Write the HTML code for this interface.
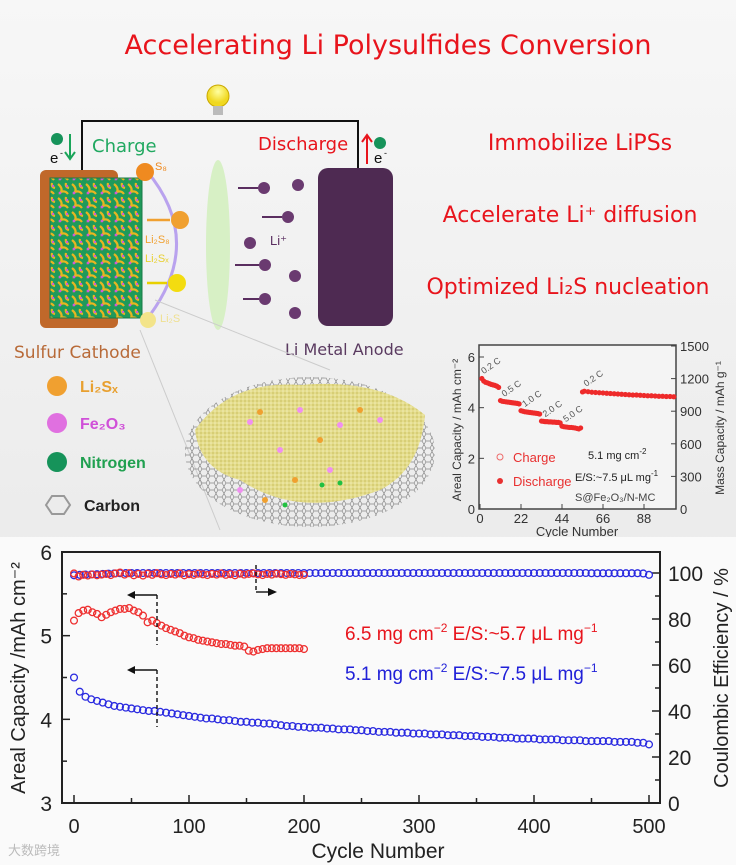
<!DOCTYPE html>
<html><head><meta charset="utf-8"><style>
html,body{margin:0;padding:0;background:#f3f3f3;}
#root{position:relative;width:736px;height:865px;overflow:hidden;background:linear-gradient(#f7f7f7,#ececec 60%,#f6f6f6);font-family:"Liberation Sans",sans-serif;}
svg text{font-family:"Liberation Sans","Noto Sans CJK SC",sans-serif;}
.cm{font-family:"DejaVu Sans","Liberation Sans",sans-serif;}
</style></head><body>
<div id="root">
<svg width="736" height="865" viewBox="0 0 736 865">
<defs>
<radialGradient id="gy" cx="0.4" cy="0.4"><stop offset="0" stop-color="#f7f1b0"/><stop offset="1" stop-color="#d9cf6c"/></radialGradient>
<radialGradient id="gb" cx="0.5" cy="0.3"><stop offset="0" stop-color="#ffffa0"/><stop offset="1" stop-color="#f0d820"/></radialGradient>
<pattern id="hex" width="8" height="7" patternUnits="userSpaceOnUse"><path d="M0 3.5 L2 0 L6 0 L8 3.5 L6 7 L2 7Z" fill="none" stroke="#888" stroke-width="0.7"/></pattern>
<pattern id="dots" width="4" height="4" patternUnits="userSpaceOnUse"><rect width="4" height="4" fill="#e4dc8c"/><circle cx="1" cy="1" r="0.9" fill="#cfc466"/><circle cx="3" cy="3" r="0.8" fill="#f2eeb8"/></pattern>
<pattern id="cube" width="14" height="14" patternUnits="userSpaceOnUse"><rect width="14" height="14" fill="#1f9a5a"/><path d="M2 2 Q7 6 5 10 Q9 8 12 12 M10 1 Q9 5 13 6" stroke="#e8b520" stroke-width="2.2" fill="none"/><circle cx="4" cy="11" r="1.4" fill="#d05ad8"/><circle cx="11" cy="4" r="1.2" fill="#d05ad8"/></pattern>
</defs>

<!-- Title -->
<text class="cm" x="388" y="54" text-anchor="middle" font-size="27" fill="#e8141c">Accelerating Li Polysulfides Conversion</text>

<!-- circuit -->
<g>
<polyline points="82,178 82,121 358,121 358,178" fill="none" stroke="#111" stroke-width="2"/>
<circle cx="218" cy="96" r="11" fill="url(#gb)" stroke="#c9a800" stroke-width="1"/>
<rect x="213" y="106" width="10" height="9" fill="#bbb"/>
</g>
<circle cx="57" cy="139" r="6" fill="#16935a"/>
<text x="50" y="163" font-size="15" fill="#111">e</text><text x="60" y="156" font-size="9" fill="#111">-</text>
<path d="M70 134 V158 M65 152 L70 159 L75 152" stroke="#1aa55a" stroke-width="2" fill="none"/>
<text class="cm" x="92" y="152" font-size="18" fill="#20a860">Charge</text>
<text class="cm" x="258" y="150" font-size="18" fill="#e8141c">Discharge</text>
<path d="M367 164 V136 M362 142 L367 135 L372 142" stroke="#e8141c" stroke-width="2" fill="none"/>
<circle cx="380" cy="143" r="6" fill="#16935a"/>
<text x="374" y="163" font-size="15" fill="#111">e</text><text x="384" y="156" font-size="9" fill="#111">-</text>

<!-- cathode -->
<g>
<rect x="40" y="170" width="78" height="158" rx="6" fill="#c0682a"/>
<rect x="50" y="178" width="92" height="140" fill="url(#cube)"/>
<rect x="50" y="178" width="92" height="140" fill="none" stroke="#1a7a48" stroke-width="1"/>
</g>
<path d="M146 170 Q205 240 150 315" fill="none" stroke="#b9a2ee" stroke-width="3"/>
<circle cx="145" cy="172" r="9" fill="#ef8a20"/><text x="155" y="170" font-size="11" fill="#ef8a20">S₈</text>
<circle cx="180" cy="220" r="9" fill="#f0a030"/><path d="M170 220 H147" stroke="#f0a030" stroke-width="2.5"/>
<text x="145" y="243" font-size="11" fill="#f0a030">Li₂S₈</text>
<text x="145" y="262" font-size="11" fill="#e8d030">Li₂Sₓ</text>
<circle cx="177" cy="283" r="9" fill="#f3dc10"/><path d="M167 283 H147" stroke="#e8d000" stroke-width="2.5"/>
<circle cx="148" cy="320" r="8" fill="#f3e48a"/><text x="160" y="322" font-size="11" fill="#efe090">Li₂S</text>
<text class="cm" x="14" y="358" font-size="17" fill="#b86a38">Sulfur Cathode</text>

<ellipse cx="218" cy="245" rx="12" ry="85" fill="#d4f0c0" opacity="0.9"/>
<rect x="318" y="168" width="75" height="158" rx="10" fill="#4e2a52"/>
<g fill="#6a3a70">
<circle cx="264" cy="188" r="6"/><circle cx="298" cy="185" r="6"/><circle cx="288" cy="217" r="6"/><circle cx="250" cy="243" r="6"/>
<circle cx="265" cy="265" r="6"/><circle cx="295" cy="276" r="6"/><circle cx="265" cy="299" r="6"/><circle cx="295" cy="313" r="6"/>
</g>
<g stroke="#5a2e60" stroke-width="2"><path d="M258 188 H238"/><path d="M282 217 H262"/><path d="M259 265 H235"/><path d="M259 299 H243"/></g>
<text x="270" y="245" font-size="13" fill="#5a2e60">Li⁺</text>
<text class="cm" x="285" y="355" font-size="16" fill="#5a3a60">Li Metal Anode</text>

<!-- right texts -->
<text class="cm" x="580" y="150" text-anchor="middle" font-size="22" fill="#e8141c">Immobilize LiPSs</text>
<text class="cm" x="570" y="222" text-anchor="middle" font-size="22" fill="#e8141c">Accelerate Li⁺ diffusion</text>
<text class="cm" x="568" y="294" text-anchor="middle" font-size="22" fill="#e8141c">Optimized Li₂S nucleation</text>

<!-- legend -->
<g>
<circle cx="57" cy="386" r="10" fill="#f0a030"/><text x="80" y="392" font-family="Liberation Serif" font-weight="bold" font-size="16" fill="#e8a030">Li₂Sₓ</text>
<circle cx="57" cy="423" r="10" fill="#e070e0"/><text x="80" y="429" font-family="Liberation Serif" font-weight="bold" font-size="16" fill="#d050d8">Fe₂O₃</text>
<circle cx="57" cy="462" r="10" fill="#16935a"/><text x="80" y="468" font-family="Liberation Serif" font-weight="bold" font-size="16" fill="#20a050">Nitrogen</text>
<path d="M46 505 L52 496 L64 496 L70 505 L64 514 L52 514Z" fill="none" stroke="#999" stroke-width="2"/>
<text x="84" y="511" font-family="Liberation Serif" font-weight="bold" font-size="16" fill="#222">Carbon</text>
</g>
<!-- crystal -->
<g>
<line x1="140" y1="330" x2="220" y2="530" stroke="#ccc" stroke-width="1"/>
<line x1="155" y1="300" x2="330" y2="370" stroke="#ccc" stroke-width="1"/>
<ellipse cx="310" cy="452" rx="125" ry="75" fill="url(#hex)"/>
<path d="M195 430 Q230 380 300 385 Q380 378 425 415 Q420 470 380 490 Q300 520 240 480 Q200 470 195 430Z" fill="url(#dots)"/>
<g fill="#f090f0"><circle cx="250" cy="422" r="3"/><circle cx="300" cy="410" r="3"/><circle cx="340" cy="425" r="3"/><circle cx="280" cy="450" r="3"/><circle cx="380" cy="420" r="3"/><circle cx="240" cy="490" r="3"/><circle cx="330" cy="470" r="3"/></g>
<g fill="#f0a030"><circle cx="260" cy="412" r="3"/><circle cx="320" cy="440" r="3"/><circle cx="360" cy="410" r="3"/><circle cx="295" cy="480" r="3"/><circle cx="265" cy="500" r="3"/></g>
<g fill="#20c040"><circle cx="322" cy="485" r="2.5"/><circle cx="285" cy="505" r="2.5"/><circle cx="340" cy="483" r="2.5"/></g>
</g>

<!-- inset -->
<g id="inset"></g>

<!-- main chart -->
<rect x="0" y="537" width="736" height="328" fill="#fafafa"/>
<g id="main"></g>
<text x="8" y="855" font-size="13" fill="#bbb">大数跨境</text>
</svg>
</div>
<script>
// ===== main chart data =====
const blueCycles = [0,5,10,15,20,25,30,35,40,45,50,55,60,65,70,75,80,85,90,95,100,105,110,115,120,125,130,135,140,145,150,155,160,165,170,175,180,185,190,195,200,205,210,215,220,225,230,235,240,245,250,255,260,265,270,275,280,285,290,295,300,305,310,315,320,325,330,335,340,345,350,355,360,365,370,375,380,385,390,395,400,405,410,415,420,425,430,435,440,445,450,455,460,465,470,475,480,485,490,495,500];
const blueCap = [4.50,4.33,4.27,4.24,4.22,4.20,4.18,4.16,4.15,4.14,4.13,4.12,4.11,4.10,4.10,4.09,4.08,4.07,4.06,4.05,4.04,4.03,4.02,4.01,4.01,4.00,3.99,3.99,3.98,3.97,3.97,3.96,3.96,3.95,3.95,3.94,3.93,3.92,3.92,3.91,3.91,3.90,3.90,3.90,3.89,3.89,3.88,3.88,3.88,3.87,3.87,3.86,3.86,3.85,3.85,3.85,3.84,3.84,3.84,3.83,3.83,3.83,3.82,3.82,3.82,3.81,3.81,3.81,3.80,3.80,3.80,3.79,3.79,3.79,3.78,3.78,3.78,3.77,3.77,3.77,3.77,3.76,3.76,3.76,3.76,3.75,3.75,3.75,3.75,3.74,3.74,3.74,3.74,3.74,3.73,3.73,3.73,3.73,3.72,3.72,3.70];
const blueCE = [99.0,99.2,99.3,99.4,99.5,99.6,99.7,99.8,99.9,100.0,100.0,100.0,100.0,100.0,100.0,100.0,100.0,100.0,100.0,100.0,100.0,100.0,100.0,100.0,100.0,100.0,100.0,100.0,100.0,100.0,100.0,100.0,100.0,100.0,100.0,100.0,100.0,100.0,100.0,100.0,100.0,100.0,100.0,100.0,100.0,100.0,100.0,100.0,100.0,100.0,100.0,100.0,100.0,100.0,100.0,100.0,100.0,100.0,100.0,100.0,100.0,100.0,100.0,100.0,100.0,100.0,100.0,100.0,100.0,100.0,100.0,100.0,100.0,100.0,100.0,100.0,100.0,100.0,100.0,100.0,100.0,100.0,100.0,100.0,100.0,100.0,100.0,100.0,100.0,100.0,99.9,99.9,99.9,99.9,99.9,99.9,99.9,99.9,99.9,99.8,99.2];
const redCycles = [0,4,8,12,16,20,24,28,32,36,40,44,48,52,56,60,64,68,72,76,80,84,88,92,96,100,104,108,112,116,120,124,128,132,136,140,144,148,152,156,160,164,168,172,176,180,184,188,192,196,200];
const redCap = [5.18,5.27,5.30,5.31,5.28,5.26,5.22,5.25,5.28,5.30,5.32,5.32,5.33,5.30,5.28,5.24,5.16,5.18,5.15,5.12,5.09,5.07,5.05,5.03,5.00,4.98,4.97,4.95,4.94,4.93,4.92,4.91,4.90,4.90,4.89,4.88,4.88,4.87,4.82,4.81,4.83,4.84,4.85,4.85,4.85,4.85,4.85,4.85,4.85,4.85,4.84];
const redCE = [99.8,98.5,99.2,98.9,99.4,99.0,99.3,99.6,99.1,99.8,100.2,99.3,99.9,99.0,99.6,98.9,99.7,99.2,99.9,99.4,99.1,99.6,99.3,99.8,99.0,99.5,99.2,99.7,99.4,99.1,99.6,99.3,99.8,99.2,99.5,99.0,99.7,99.3,99.6,99.8,99.4,99.1,99.6,99.3,99.7,99.5,99.2,99.6,99.4,99.1,99.2];
const xTicks = [0,100,200,300,400,500];
const yTicks = [3,4,5,6];
const y2Ticks = [0,20,40,60,80,100];

// ===== inset data =====
const insetCycles = [1,2,3,4,5,6,7,8,9,10,11,12,13,14,15,16,17,18,19,20,21,22,23,24,25,26,27,28,29,30,31,32,33,34,35,36,37,38,39,40,41,42,43,44,45,46,47,48,49,50,51,52,53,54,55,56,58,60,62,64,66,68,70,72,74,76,78,80,82,84,86,88,90,92,94,96,98,100,102,104];
const insetCap = [5.15,5.05,5.00,4.98,4.95,4.92,4.90,4.88,4.85,4.80,4.28,4.25,4.24,4.23,4.22,4.21,4.20,4.19,4.18,4.17,4.15,3.88,3.86,3.84,3.83,3.82,3.81,3.80,3.79,3.78,3.77,3.75,3.47,3.46,3.45,3.45,3.44,3.44,3.43,3.43,3.42,3.42,3.40,3.27,3.25,3.24,3.23,3.22,3.22,3.21,3.20,3.18,3.16,3.20,4.62,4.65,4.63,4.61,4.60,4.59,4.58,4.57,4.56,4.55,4.54,4.53,4.52,4.51,4.50,4.50,4.49,4.48,4.47,4.47,4.46,4.45,4.45,4.44,4.44,4.43];
const insetXTicks = [0,22,44,66,88];
const insetYTicks = [0,2,4,6];
const insetY2Ticks = [0,300,600,900,1200,1500];
const rateLabels = ["0.2 C","0.5 C","1.0 C","2.0 C","5.0 C","0.2 C"];
const rateCycles = [2,13,24,35,46,57];
const rateValues = [5.2,4.3,3.9,3.5,3.3,4.7];

const NS="http://www.w3.org/2000/svg";
function mk(parent,tag,attrs,text){const e=document.createElementNS(NS,tag);for(const k in attrs)e.setAttribute(k,attrs[k]);if(text!==undefined)e.textContent=text;parent.appendChild(e);return e;}

// main axes
const X=c=>74+c*(649-74)/500;
const Y=v=>803-(v-3)*(803-552)/3;
const Y2=v=>803-v*(803-573)/100;
const g=document.getElementById('main');
let r=mk(g,'rect',{x:62,y:552,width:598,height:251,fill:'none',stroke:'#222','stroke-width':2});


for(let c=0;c<=500;c+=50){const big=c%100===0;mk(g,'line',{x1:X(c),x2:X(c),y1:803,y2:803-(big?8:5),stroke:'#222','stroke-width':1.5});}
xTicks.forEach(c=>{const t=mk(g,'text',{x:X(c),y:833,'text-anchor':'middle','font-size':20,fill:'#222'},String(c));

});
for(let v=3;v<=6;v+=0.5){const big=v%1===0;mk(g,'line',{x1:62,x2:62+(big?8:5),y1:Y(v),y2:Y(v),stroke:'#222','stroke-width':1.5});}
yTicks.forEach(v=>{const t=mk(g,'text',{x:52,y:Y(v)+8,'text-anchor':'end','font-size':21,fill:'#222'},String(v));

});
for(let v=0;v<=100;v+=10){const big=v%20===0;mk(g,'line',{x1:660,x2:660-(big?8:5),y1:Y2(v),y2:Y2(v),stroke:'#222','stroke-width':1.5});}
y2Ticks.forEach(v=>{const t=mk(g,'text',{x:668,y:Y2(v)+8,'font-size':21,fill:'#222'},String(v));

});
let t=mk(g,'text',{x:378,y:858,'text-anchor':'middle','font-size':21,fill:'#222'},'Cycle Number');


t=mk(g,'text',{transform:'translate(25,678) rotate(-90)','text-anchor':'middle','font-size':20,fill:'#222'},'Areal Capacity /mAh cm⁻²');


t=mk(g,'text',{transform:'translate(728,678) rotate(-90)','text-anchor':'middle','font-size':20,fill:'#222'},'Coulombic Efficiency / %');


function pts(xs,ys,fy,color,name){xs.forEach((c,i)=>{const p=mk(g,'circle',{cx:X(c),cy:fy(ys[i]),r:3.4,fill:'none',stroke:color,'stroke-width':1.3});

});}
pts(blueCycles,blueCE,Y2,'#2a2ae0','blue-ce-point');
pts(redCycles,redCE,Y2,'#ee3030','red-ce-point');
pts(redCycles,redCap,Y,'#ee3030','red-capacity-point');
pts(blueCycles,blueCap,Y,'#2a2ae0','blue-capacity-point');
// arrows
function arrow(x,y1,y2,dir){mk(g,'line',{x1:x,x2:x,y1:y1,y2:y2,stroke:'#111','stroke-width':1.4,'stroke-dasharray':'4,3'});const ex=x+dir*22;mk(g,'line',{x1:x,x2:ex,y1:y1,y2:y1,stroke:'#111','stroke-width':1.4});mk(g,'path',{d:`M${ex} ${y1} l${-dir*-0} 0 M${ex} ${y1-4} L${ex+dir*8} ${y1} L${ex} ${y1+4}Z`,fill:'#111'});}
arrow(157,595,645,-1);arrow(157,670,727,-1);
mk(g,'line',{x1:256,x2:256,y1:565,y2:592,stroke:'#111','stroke-width':1.4,'stroke-dasharray':'4,3'});
mk(g,'line',{x1:256,x2:268,y1:592,y2:592,stroke:'#111','stroke-width':1.4});
mk(g,'path',{d:'M268 588 L277 592 L268 596Z',fill:'#111'});
t=mk(g,'text',{x:345,y:640,'font-size':19,fill:'#e8141c'});
t.innerHTML='6.5 mg cm<tspan dy="-8" font-size="12">−2</tspan><tspan dy="8"> E/S:~5.7 μL mg</tspan><tspan dy="-8" font-size="12">−1</tspan>';


t=mk(g,'text',{x:345,y:680,'font-size':19,fill:'#2020d8'});
t.innerHTML='5.1 mg cm<tspan dy="-8" font-size="12">−2</tspan><tspan dy="8"> E/S:~7.5 μL mg</tspan><tspan dy="-8" font-size="12">−1</tspan>';



// inset
const ig=document.getElementById('inset');
const IX=c=>480+c*(644-480)/88;
const IY=v=>509-v*(509-357)/6;
const IY2=v=>509-v*(509-346)/1500;
mk(ig,'rect',{x:479,y:345,width:197,height:164,fill:'#f4f4f4',stroke:'#444','stroke-width':1.5});
insetXTicks.forEach(c=>{mk(ig,'line',{x1:IX(c),x2:IX(c),y1:509,y2:504,stroke:'#444'});t=mk(ig,'text',{x:IX(c),y:523,'text-anchor':'middle','font-size':13,fill:'#333'},String(c));

});
insetYTicks.forEach(v=>{mk(ig,'line',{x1:479,x2:484,y1:IY(v),y2:IY(v),stroke:'#444'});t=mk(ig,'text',{x:475,y:IY(v)+5,'text-anchor':'end','font-size':13,fill:'#333'},String(v));

});
insetY2Ticks.forEach(v=>{mk(ig,'line',{x1:676,x2:671,y1:IY2(v),y2:IY2(v),stroke:'#444'});t=mk(ig,'text',{x:680,y:IY2(v)+5,'font-size':13,fill:'#333'},String(v));

});
t=mk(ig,'text',{x:577,y:536,'text-anchor':'middle','font-size':13,fill:'#333'},'Cycle Number');


t=mk(ig,'text',{transform:'translate(461,430) rotate(-90)','text-anchor':'middle','font-size':12,fill:'#333'},'Areal Capacity / mAh cm⁻²');


t=mk(ig,'text',{transform:'translate(724,428) rotate(-90)','text-anchor':'middle','font-size':12,fill:'#333'},'Mass Capacity / mAh g⁻¹');


insetCycles.forEach((c,i)=>{const p=mk(ig,'circle',{cx:IX(c),cy:IY(insetCap[i]),r:2.6,fill:'#ee2a2a'});

});
rateLabels.forEach((s,i)=>{const x=IX(rateCycles[i]),y=IY(rateValues[i])-3;t=mk(ig,'text',{x:x,y:y,transform:`rotate(-35 ${x} ${y})`,'font-size':9,fill:'#555'},s);

});
mk(ig,'circle',{cx:500,cy:457,r:3,fill:'none',stroke:'#ee6a6a'});
t=mk(ig,'text',{x:513,y:462,'font-size':13,fill:'#e83030'},'Charge');


mk(ig,'circle',{cx:500,cy:481,r:3,fill:'#e83030'});
t=mk(ig,'text',{x:513,y:486,'font-size':13,fill:'#e83030'},'Discharge');


t=mk(ig,'text',{x:588,y:459,'font-size':11,fill:'#222'});t.innerHTML='5.1 mg cm<tspan dy="-5" font-size="8">-2</tspan>';
t=mk(ig,'text',{x:575,y:481,'font-size':11,fill:'#222'});t.innerHTML='E/S:~7.5 μL mg<tspan dy="-5" font-size="8">-1</tspan>';
t=mk(ig,'text',{x:575,y:501,'font-size':11,fill:'#444'},'S@Fe₂O₃/N-MC');
</script>
</body></html>
